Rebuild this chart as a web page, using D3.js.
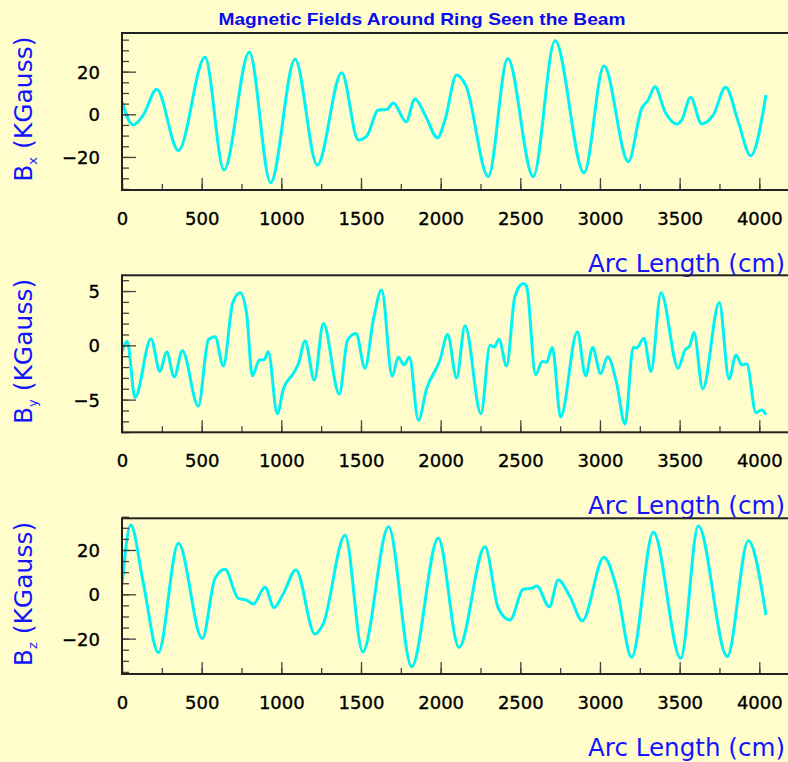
<!DOCTYPE html>
<html>
<head>
<meta charset="utf-8">
<script src="https://cdn.jsdelivr.net/npm/d3@7"></script>
<style>
  html, body { margin: 0; padding: 0; background: #fffdcc; overflow: hidden; }
  svg { display: block; }
</style>
</head>
<body>
<div id="chart"></div>
<script>
// ── Data ────────────────────────────────────────────────────────────────────
const arcBx = [0, 70, 134, 218, 354, 521, 640, 799, 933, 1086,
  1226, 1379, 1483, 1536, 1609, 1661, 1703, 1783, 1839, 1902,
  1981, 2027, 2100, 2159, 2299, 2421, 2581, 2718, 2900, 3025,
  3178, 3262, 3303, 3345, 3408, 3482, 3513, 3569, 3638, 3711,
  3789, 3868, 3946, 4042];
const bx = [6, -5, -0.3, 11.7, -17, 26.7, -26.1, 29.1, -32.1, 25.8,
  -23.8, 19.5, -12, -10.2, 2, 2.2, 5.3, -3.5, 7.2, -0.3,
  -11, -2.7, 18.4, 13.3, -29.2, 26.2, -29.2, 34.5, -27.4, 22.6,
  -22.2, 2.8, 6.7, 12.9, 1.2, -4.5, -2.7, 8.0, -4.5, -0.3,
  12.7, -3.5, -19.4, 9.0];

const arcBy = [0, 33, 82, 182, 238, 280, 328, 379, 479, 542,
  584, 636, 695, 741, 782, 818, 862, 893, 918, 975,
  1013, 1075, 1107, 1149, 1207, 1264, 1364, 1416, 1469, 1525,
  1577, 1630, 1696, 1734, 1770, 1804, 1860, 1912, 1996, 2044,
  2100, 2153, 2253, 2310, 2337, 2366, 2414, 2466, 2519, 2540,
  2596, 2638, 2665, 2701, 2753, 2858, 2910, 2954, 3004, 3048,
  3105, 3157, 3209, 3230, 3276, 3320, 3383, 3491, 3533, 3565,
  3590, 3645, 3749, 3810, 3854, 3890, 3921, 3979, 4015, 4042];
const by = [-0.6, 0.35, -4.8, 0.6, -2.4, -0.6, -2.9, -0.5, -5.6, 0.5,
  0.8, -1.9, 3.9, 4.85, 2.95, -2.8, -1.35, -1.3, -0.6, -6.3,
  -4.0, -2.6, -1.7, 0.4, -3.2, 2.0, -4.5, 0.5, 1.1, -2.1,
  2.3, 5.1, -2.85, -1.1, -1.8, -1.1, -6.9, -4.0, -1.35, 1.0,
  -3.0, 1.8, -6.3, 0.0, -0.15, 0.55, -1.9, 4.5, 5.7, 5.4,
  -2.7, -1.5, -1.55, -0.2, -6.6, 1.25, -2.8, -0.2, -2.6, -1.05,
  -3.5, -7.25, -0.2, -0.25, 0.65, -2.4, 4.85, -2.1, -0.45, 0.0,
  1.2, -4.0, 3.95, -3.1, -0.9, -1.8, -1.7, -6.2, -5.95, -6.4];

const arcBz = [0, 55, 134, 228, 354, 504, 584, 646, 730, 782,
  824, 898, 954, 1013, 1092, 1211, 1264, 1400, 1511, 1673,
  1818, 1985, 2115, 2278, 2362, 2435, 2519, 2571, 2603, 2682,
  2738, 2812, 2889, 3025, 3105, 3199, 3335, 3507, 3617, 3799,
  3931, 4042];
const bz = [4.2, 31.3, 5, -26.3, 23.0, -19.9, 7.2, 11.3, -1.8, -2.6,
  -4.4, 3.2, -6.0, 0.4, 11.0, -17.9, -13.1, 26.7, -25.9, 30.5,
  -32.7, 25.3, -23.9, 21.5, -6.3, -11.6, 2.3, 2.7, 3.7, -5.6,
  6.4, -1.1, -11.9, 16.7, 2.7, -28.4, 28.0, -28.9, 30.8, -28.1,
  24.2, -9.3];

// Tick values
const xTicks      = [0, 500, 1000, 1500, 2000, 2500, 3000, 3500, 4000];
const xMinorTicks = d3.range(0, 4300, 250);
const yTicksB     = [-20, 0, 20];
const yMinorB     = d3.range(-35, 40, 5);
const yTicksBy    = [-5, 0, 5];
const yMinorBy    = d3.range(-8, 7, 1);

const TITLE  = 'Magnetic Fields Around Ring Seen the Beam';
const XTITLE = 'Arc Length (cm)';

// ── Layout ──────────────────────────────────────────────────────────────────
const W = 788, H = 762;
const FL = 122, FR = 807;            // frame left / right (right runs off canvas)
const BG = '#fffdcc', LINE = '#00f2f2', BLUE = '#1414ff';

const panels = [
  { arc: arcBx, val: bx, sub: 'x', top: 33,    bot: 190,   dom: [-35.5, 38.12], major: yTicksB,  minor: yMinorB },
  { arc: arcBy, val: by, sub: 'y', top: 275.3, bot: 432.3, dom: [-8.01, 6.45],  major: yTicksBy, minor: yMinorBy },
  { arc: arcBz, val: bz, sub: 'z', top: 518.3, bot: 674,   dom: [-35.95, 34.29], major: yTicksB, minor: yMinorB },
];

const svg = d3.select('#chart').append('svg')
  .attr('width', W).attr('height', H)
  .style('background', BG);

svg.append('rect').attr('width', W).attr('height', H).attr('fill', BG);

// x scale: 0 → 122px, 4000 → 759.3px
const x = d3.scaleLinear().domain([0, 4000]).range([FL, 759.3]);

const styleTickText = sel => sel
  .attr('font-family', 'DejaVu Sans').attr('font-size', 18)
  .attr('fill', '#000').attr('stroke', '#000').attr('stroke-width', 0.35);

// ── Title ──────────────────────────────────────────────────────────────────
svg.append('text')
  .attr('x', 218.5).attr('y', 25)
  .attr('textLength', 407).attr('lengthAdjust', 'spacingAndGlyphs')
  .attr('font-family', 'Liberation Sans').attr('font-weight', 'bold')
  .attr('font-size', 17).attr('fill', '#0a0aee')
  .text(TITLE);

panels.forEach((p, i) => {
  const y = d3.scaleLinear().domain(p.dom).range([p.bot, p.top]);
  const g = svg.append('g');

  // clip for the curve
  const clipId = 'clip' + i;
  svg.append('clipPath').attr('id', clipId)
    .append('rect')
    .attr('x', FL).attr('y', p.top)
    .attr('width', FR - FL).attr('height', p.bot - p.top);

  // curve
  const pts = p.arc.map((a, k) => [a, p.val[k]]);
  g.append('path')
    .datum(pts)
    .attr('clip-path', `url(#${clipId})`)
    .attr('fill', 'none')
    .attr('stroke', LINE)
    .attr('stroke-width', 3)
    .attr('stroke-linejoin', 'round')
    .attr('d', d3.line()
      .x(d => x(d[0]))
      .y(d => y(d[1]))
      .curve(d3.curveMonotoneX));

  // ── y axis: minor, then major ticks pointing inward ─────────────────────
  g.append('g').attr('transform', `translate(${FL},0)`)
    .call(d3.axisLeft(y).tickValues(p.minor).tickSize(-7).tickFormat(''))
    .call(a => a.select('.domain').remove())
    .call(a => a.selectAll('line').attr('stroke', '#444').attr('stroke-width', 1.3));

  g.append('g').attr('transform', `translate(${FL},0)`)
    .call(d3.axisLeft(y).tickValues(p.major).tickSize(-14).tickPadding(22).tickFormat(d3.format('d')))
    .call(a => a.select('.domain').remove())
    .call(a => a.selectAll('line').attr('stroke', '#444').attr('stroke-width', 1.3))
    .call(a => a.selectAll('text').call(styleTickText).attr('dy', null).attr('y', 6.6));

  // ── x axis: minor, then major ticks pointing up ───────────────────────
  g.append('g').attr('transform', `translate(0,${p.bot})`)
    .call(d3.axisBottom(x).tickValues(xMinorTicks).tickSize(-6).tickFormat(''))
    .call(a => a.select('.domain').remove())
    .call(a => a.selectAll('line').attr('stroke', '#444').attr('stroke-width', 1.3));

  g.append('g').attr('transform', `translate(0,${p.bot})`)
    .call(d3.axisBottom(x).tickValues(xTicks).tickSize(-12).tickPadding(22).tickFormat(d3.format('d')))
    .call(a => a.select('.domain').remove())
    .call(a => a.selectAll('line').attr('stroke', '#444').attr('stroke-width', 1.3))
    .call(a => a.selectAll('text').call(styleTickText));

  // frame
  g.append('rect')
    .attr('x', FL).attr('y', p.top)
    .attr('width', FR - FL).attr('height', p.bot - p.top)
    .attr('fill', 'none').attr('stroke', '#222').attr('stroke-width', 2);

  // x title
  g.append('text')
    .attr('x', 588).attr('y', p.bot + 81.7)
    .attr('textLength', 197).attr('lengthAdjust', 'spacingAndGlyphs')
    .attr('font-family', 'DejaVu Sans').attr('font-size', 24)
    .attr('fill', BLUE)
    .text(XTITLE);

  // y title (rotated, anchored to top of axis)
  const yt = g.append('text')
    .attr('transform', `translate(32,${p.top + 3.5}) rotate(-90)`)
    .attr('text-anchor', 'end')
    .attr('font-family', 'DejaVu Sans').attr('font-size', 25)
    .attr('fill', BLUE);
  yt.append('tspan').text('B');
  yt.append('tspan').attr('font-size', 13).attr('dy', 5).text(p.sub);
  yt.append('tspan').attr('dy', -5).text(' (KGauss)');
});
</script>
</body>
</html>
